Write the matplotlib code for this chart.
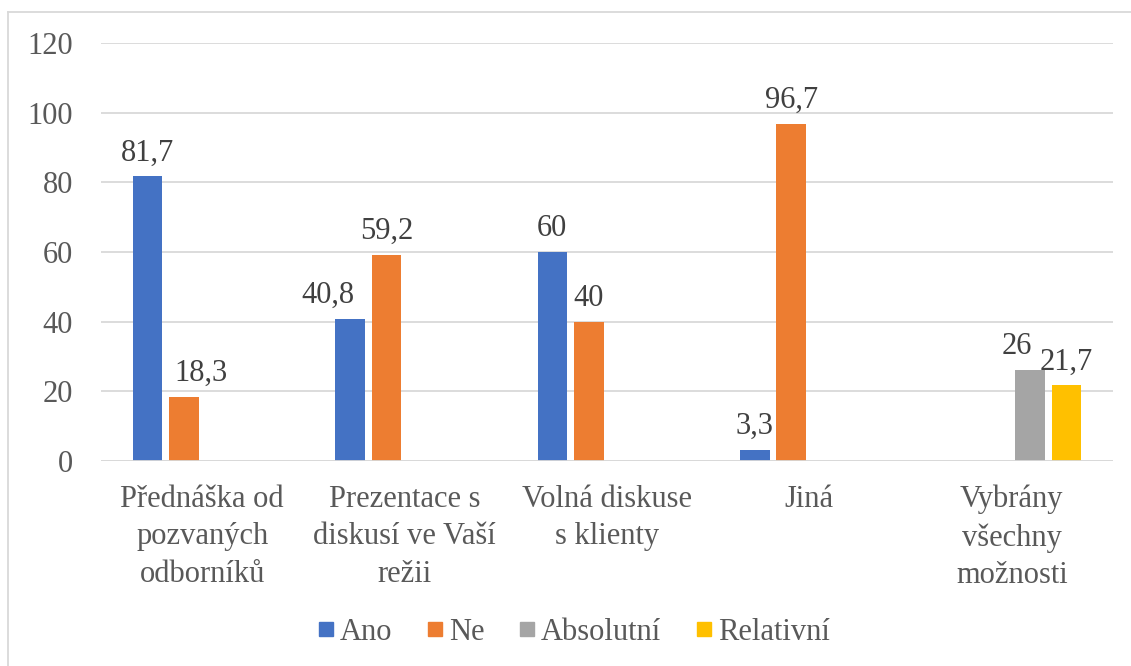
import matplotlib.pyplot as plt
import numpy as np
from matplotlib.lines import Line2D

categories = ["Přednáška od\npozvaných\nodborníků", "Prezentace s\ndiskusí ve Vaší\nrežii",
              "Volná diskuse\ns klienty", "Jiná", "Vybrány\nvšechny\nmožnosti"]
series = ["Ano", "Ne", "Absolutní", "Relativní"]
ano = [81.7, 40.8, 60, 3.3, None]
ne = [18.3, 59.2, 40, 96.7, None]
absolutni = [None, None, None, None, 26]
relativni = [None, None, None, None, 21.7]
colors = ["#4472C4", "#ED7D31", "#A5A5A5", "#FFC000"]

# some value labels were moved sideways in the original to avoid overlaps (pixels)
label_nudge = {(0, 1): -22, (1, 0): 17, (2, 4): -13}

plt.rcParams['font.family'] = ['Liberation Serif', 'DejaVu Serif']
fs = 22

fig = plt.figure(figsize=(11.31, 6.66), dpi=100)
ax = fig.add_axes([101 / 1131, 1 - 461 / 666, (1113 - 101) / 1131, (461 - 43) / 666])

x = np.arange(len(categories))
step = 0.18
width = 0.146
all_vals = [ano, ne, absolutni, relativni]
for i, vals in enumerate(all_vals):
    offset = (i - 1.5) * step
    for j, v in enumerate(vals):
        if v is None:
            continue
        ax.bar(x[j] + offset, v, width, color=colors[i], zorder=3)
        lbl = str(v).replace(".", ",")
        if lbl.endswith(",0"):
            lbl = lbl[:-2]
        dx = label_nudge.get((i, j), 0) * 0.72
        ax.annotate(lbl, (x[j] + offset, v + 2.6), xytext=(dx, 0), textcoords="offset points",
                    ha="center", va="bottom", fontsize=fs, color="#404040")

ax.set_xlim(-0.5, len(categories) - 0.5)
ax.set_ylim(0, 120)
ax.set_yticks(range(0, 121, 20))
ax.yaxis.grid(True, color="#D9D9D9", linewidth=1.3, zorder=0)
for s in ax.spines.values():
    s.set_visible(False)
ax.axhline(0, color="#D9D9D9", linewidth=1.3, zorder=4)
ax.tick_params(axis="both", length=0, labelsize=fs, labelcolor="#595959")
ax.tick_params(axis="y", pad=20)
ax.set_xticks(x)
ax.set_xticklabels(categories, linespacing=1.4)
ax.tick_params(axis="x", pad=17)

handles = [Line2D([], [], marker="s", linestyle="none", markersize=10, color=c) for c in colors]
fig.legend(handles, series, loc="center", bbox_to_anchor=(572 / 1131, 1 - 632 / 666),
           ncol=4, frameon=False, fontsize=fs, labelcolor="#595959",
           handletextpad=0.05, columnspacing=1.0, handlelength=0.8)

# outer border of the chart area
fig.add_artist(Line2D([8 / 1131, 8 / 1131], [0, 1 - 12 / 666], transform=fig.transFigure,
                      color="#D9D9D9", linewidth=1.3))
fig.add_artist(Line2D([8 / 1131, 1], [1 - 12 / 666, 1 - 12 / 666], transform=fig.transFigure,
                      color="#D9D9D9", linewidth=1.3))

fig.savefig("out.png", dpi=100)
